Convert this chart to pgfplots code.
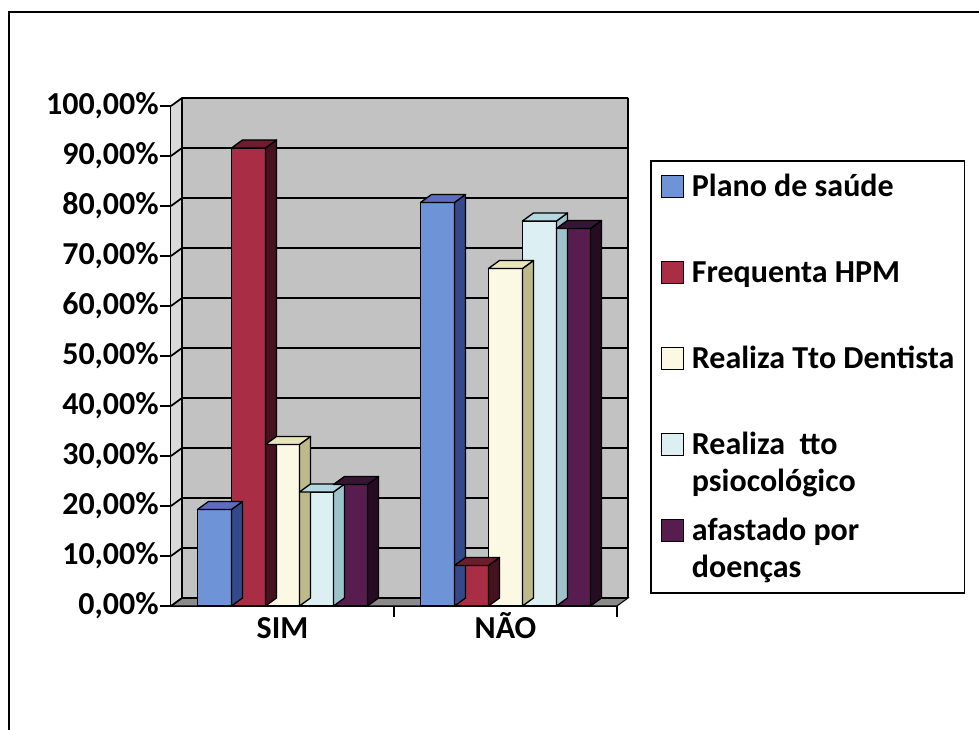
\documentclass[border=0pt]{standalone}
\usepackage{pgfplots}
\usepackage{pgfplotstable}
\pgfplotsset{compat=1.18}
\usepackage{fontspec}
\setmainfont{Carlito}

% front / side / top shades of each series
\definecolor{planoF}{HTML}{6E93D6}
\definecolor{planoS}{HTML}{34498A}
\definecolor{planoT}{HTML}{5C6CC0}
\definecolor{hpmF}{HTML}{AA2D46}
\definecolor{hpmS}{HTML}{45121E}
\definecolor{hpmT}{HTML}{6B1E2E}
\definecolor{dentF}{HTML}{FBF8E4}
\definecolor{dentS}{HTML}{BDB98A}
\definecolor{dentT}{HTML}{E8E4BC}
\definecolor{psiF}{HTML}{DCEFF3}
\definecolor{psiS}{HTML}{9EC2CB}
\definecolor{psiT}{HTML}{B4D8E2}
\definecolor{afaF}{HTML}{561D4E}
\definecolor{afaS}{HTML}{260C22}
\definecolor{afaT}{HTML}{3A1434}
\definecolor{wall}{HTML}{C2C2C2}
\definecolor{sidewall}{HTML}{D9D9D9}
\definecolor{floorc}{HTML}{8A8A8A}

% percentages per answer (0 = SIM, 1 = NAO)
\pgfplotstableread{
cat plano hpm  dent psi  afa
0   19.3  91.6 32.3 22.8 24.3
1   80.7  8.1  67.5 77.0 75.5
}\saude

% side and top faces of a bar; the mark point is the top centre of the
% category, #2 is the bar's offset, \barh its height in percent
\newcommand\prismmark[4]{%
  \pgfdeclareplotmark{#1}{%
    \pgfsetlinewidth{1pt}\pgfsetstrokecolor{black}%
    \pgfsetroundjoin
    \pgfsetfillcolor{#4}%
    \pgfpathmoveto{\pgfpoint{#2+12.75pt}{0pt}}%
    \pgfpathlineto{\pgfpoint{#2+21pt}{6pt}}%
    \pgfpathlineto{\pgfpoint{#2+21pt}{6pt-\barh*3.75pt}}%
    \pgfpathlineto{\pgfpoint{#2+12.75pt}{-\barh*3.75pt}}%
    \pgfpathclose\pgfusepath{fill,stroke}%
    \pgfsetfillcolor{#3}%
    \pgfpathmoveto{\pgfpoint{#2-12.75pt}{0pt}}%
    \pgfpathlineto{\pgfpoint{#2+12.75pt}{0pt}}%
    \pgfpathlineto{\pgfpoint{#2+21pt}{6pt}}%
    \pgfpathlineto{\pgfpoint{#2-4.5pt}{6pt}}%
    \pgfpathclose\pgfusepath{fill,stroke}}}
\prismmark{prismA}{-51pt}{planoT}{planoS}
\prismmark{prismB}{-25.5pt}{hpmT}{hpmS}
\prismmark{prismC}{0pt}{dentT}{dentS}
\prismmark{prismD}{25.5pt}{psiT}{psiS}
\prismmark{prismE}{51pt}{afaT}{afaS}

\pgfplotsset{
  depth/.style={only marks, mark=#1, forget plot,
    visualization depends on={rawy \as \barh}},
  front/.style={ybar, bar width=25.5pt, bar shift=#1, draw=black,
    line width=1pt,
    legend image code/.code={\draw[##1, line width=0.8pt] (0pt,5.5pt) rectangle (16.5pt,22pt);}},
}
% two-line legend text, aligned on its first line
\newcommand\twolines[2]{\vtop{\hbox{#1}\hbox{#2}}}

\begin{document}
\begin{tikzpicture}[x=0.75pt,y=0.75pt]
\useasboundingbox (0,0) rectangle (979,730);
\draw[line width=1.5pt] (9,0) -- (9,718) -- (979,718);
\begin{axis}[
  at={(128.25pt,93pt)}, anchor=south west,
  scale only axis, width=334.5pt, height=375pt,
  xmin=-0.5, xmax=1.5, ymin=0, ymax=100,
  clip=false,
  axis lines*=left,
  axis line style={-, line width=1.2pt},
  tick align=outside,
  major tick length=8pt,
  tick style={black, line width=1.2pt},
  ytick={0,10,...,100},
  yticklabels={{0,00\%},{10,00\%},{20,00\%},{30,00\%},{40,00\%},{50,00\%},
    {60,00\%},{70,00\%},{80,00\%},{90,00\%},{100,00\%}},
  xtick={0.5,1.5},
  xticklabels={},
  extra x ticks={0,1},
  extra x tick labels={SIM,NÃO},
  extra x tick style={major tick length=0pt},
  tick label style={font=\fontsize{24}{28}\selectfont\bfseries},
  yticklabel style={inner xsep=1pt},
  xticklabel style={text height=17pt, text depth=0pt, yshift=-4pt},
  legend cell align=left,
  legend style={at={(1.074,0.892)}, anchor=north west, draw=black,
    line width=1.2pt, fill=white, inner xsep=7.5pt, inner ysep=0.75pt,
    column sep=6pt, row sep=0pt,
    font=\fontsize{24}{27.75}\selectfont\bfseries,
    nodes={inner sep=0pt, text height=26.25pt, text depth=38.25pt}},
]
% back wall, side wall and floor
\fill[wall] ([xshift=8.25pt,yshift=6pt]axis cs:-0.5,0) rectangle ([xshift=8.25pt,yshift=6pt]axis cs:1.5,100);
\fill[sidewall] (axis cs:-0.5,0) -- ([xshift=8.25pt,yshift=6pt]axis cs:-0.5,0)
  -- ([xshift=8.25pt,yshift=6pt]axis cs:-0.5,100) -- (axis cs:-0.5,100) -- cycle;
\filldraw[floorc, draw=black, line width=0.8pt] (axis cs:-0.5,0) -- (axis cs:1.5,0)
  -- ([xshift=8.25pt,yshift=6pt]axis cs:1.5,0) -- ([xshift=8.25pt,yshift=6pt]axis cs:-0.5,0) -- cycle;
\pgfplotsinvokeforeach{0,10,...,100}{
  \draw[line width=1.3pt] (axis cs:-0.5,#1) -- ([xshift=8.25pt,yshift=6pt]axis cs:-0.5,#1)
    -- ([xshift=8.25pt,yshift=6pt]axis cs:1.5,#1);
}
\draw[line width=0.9pt] ([xshift=8.25pt,yshift=6pt]axis cs:-0.5,0) -- ([xshift=8.25pt,yshift=6pt]axis cs:-0.5,100);
\draw[line width=0.9pt] ([xshift=8.25pt,yshift=6pt]axis cs:1.5,0) -- ([xshift=8.25pt,yshift=6pt]axis cs:1.5,100);

\addplot[depth=prismA] table[x=cat,y=plano]{\saude};
\addplot[front=-51pt, fill=planoF] table[x=cat,y=plano]{\saude};
\addlegendentry{Plano de saúde}
\addplot[depth=prismB] table[x=cat,y=hpm]{\saude};
\addplot[front=-25.5pt, fill=hpmF] table[x=cat,y=hpm]{\saude};
\addlegendentry{Frequenta HPM}
\addplot[depth=prismC] table[x=cat,y=dent]{\saude};
\addplot[front=0pt, fill=dentF] table[x=cat,y=dent]{\saude};
\addlegendentry{Realiza Tto Dentista}
\addplot[depth=prismD] table[x=cat,y=psi]{\saude};
\addplot[front=25.5pt, fill=psiF] table[x=cat,y=psi]{\saude};
\addlegendentry{\twolines{Realiza \ tto}{psiocológico}}
\addplot[depth=prismE] table[x=cat,y=afa]{\saude};
\addplot[front=51pt, fill=afaF] table[x=cat,y=afa]{\saude};
\addlegendentry{\twolines{afastado por}{doenças}}
\end{axis}
\end{tikzpicture}
\end{document}
